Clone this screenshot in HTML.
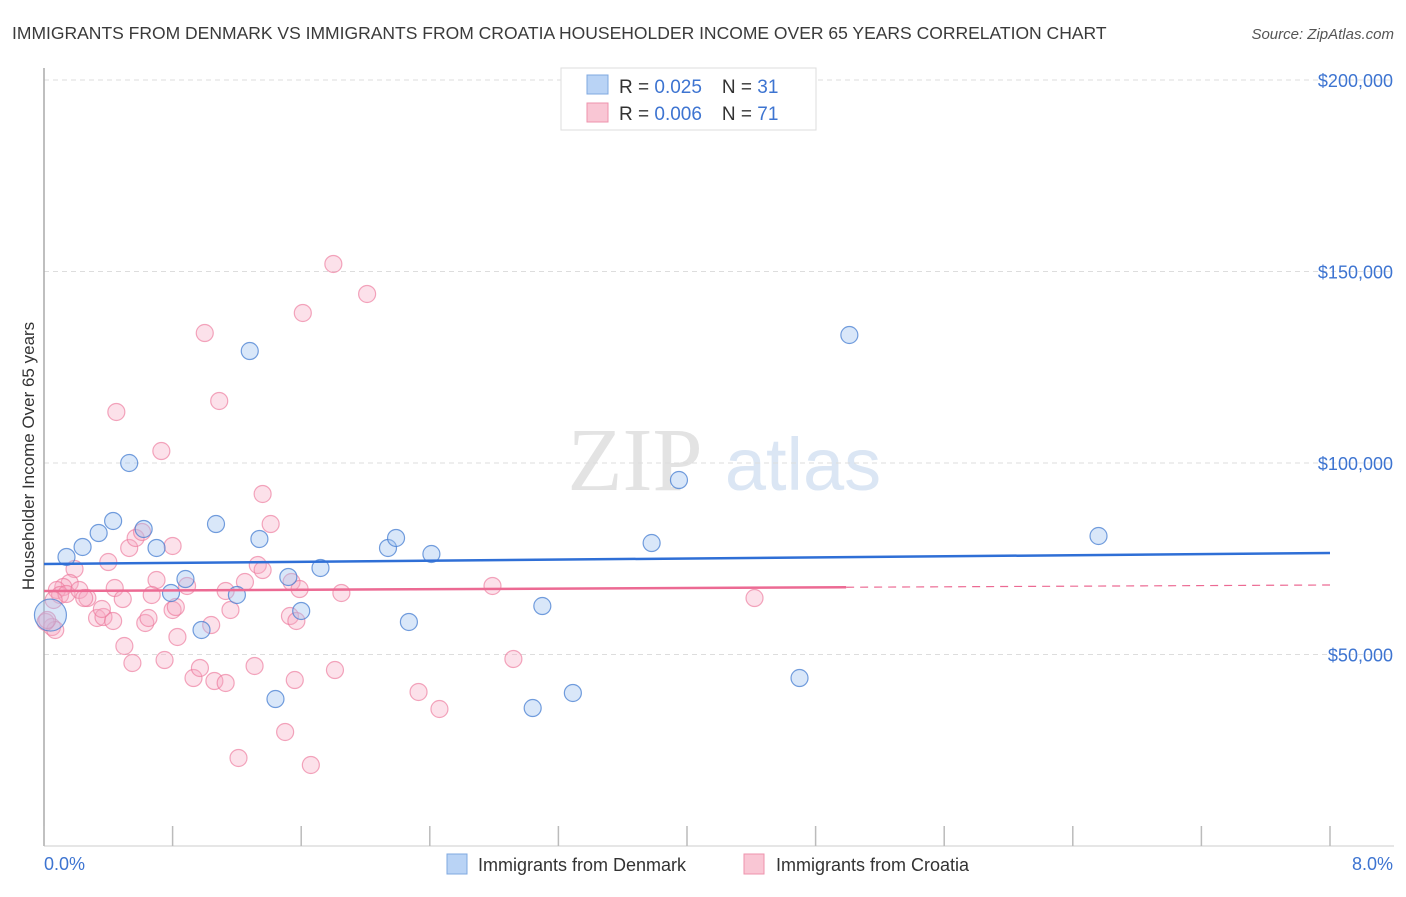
<!DOCTYPE html>
<html><head><meta charset="utf-8"><style>
body{margin:0;background:#fff;font-family:"Liberation Sans",sans-serif}
</style></head><body>
<svg id="chart" width="1406" height="892" xmlns="http://www.w3.org/2000/svg" font-family="Liberation Sans, sans-serif">
<text x="12" y="39" font-size="17.5" fill="#3a3a3a">IMMIGRANTS FROM DENMARK VS IMMIGRANTS FROM CROATIA HOUSEHOLDER INCOME OVER 65 YEARS CORRELATION CHART</text>
<text x="1394" y="39" font-size="15" fill="#555" font-style="italic" text-anchor="end">Source: ZipAtlas.com</text>
<g>
<text x="635" y="490" font-size="90" fill="#e3e3e3" font-family="Liberation Serif, serif" text-anchor="middle">ZIP</text>
<text x="803" y="490" font-size="74" fill="#dbe6f4" text-anchor="middle">atlas</text>
</g>
<g id="grid"></g>
<g id="axes"></g>
<g id="marks"></g>
<text transform="translate(34,456) rotate(-90)" font-size="17" fill="#333" text-anchor="middle">Householder Income Over 65 years</text>
<g>
<rect x="561" y="68" width="255" height="62" fill="#fff" stroke="#ddd"/>
<rect x="587" y="75" width="21" height="19" fill="#b9d3f5" stroke="#7fa8e0"/>
<rect x="587" y="103" width="21" height="19" fill="#f9c6d4" stroke="#ee93ad"/>
<text x="619" y="93" font-size="19" fill="#333">R = <tspan fill="#3d74d1">0.025</tspan><tspan dx="20">N = </tspan><tspan fill="#3d74d1">31</tspan></text>
<text x="619" y="120" font-size="19" fill="#333">R = <tspan fill="#3d74d1">0.006</tspan><tspan dx="20">N = </tspan><tspan fill="#3d74d1">71</tspan></text>
</g>
<g>
<rect x="447" y="854" width="20" height="20" fill="#b9d3f5" stroke="#7fa8e0"/>
<text x="478" y="871" font-size="18" fill="#333">Immigrants from Denmark</text>
<rect x="744" y="854" width="20" height="20" fill="#f9c6d4" stroke="#ee93ad"/>
<text x="776" y="871" font-size="18" fill="#333">Immigrants from Croatia</text>
</g>
</svg>
<script>
const xTicks=[0,0.8,1.6,2.4,3.2,4,4.8,5.6,6.4,7.2,8];
const yTicks=[50000,100000,150000,200000];
const yTickLabels=["$50,000","$100,000","$150,000","$200,000"];
const xEndLabels=["0.0%","8.0%"];
const denX=[0.14,0.24,0.34,0.43,0.62,0.53,0.70,0.79,0.88,0.98,1.07,1.20,1.28,1.34,1.44,1.52,1.60,1.72,2.14,2.19,2.27,2.41,3.04,3.10,3.29,3.78,3.95,4.70,5.01,6.56,0.04];
const denY=[75460,78070,81720,84860,82770,100000,77810,66060,69710,56400,84070,65540,129240,80160,38380,70240,61360,72590,77810,80420,58490,76240,36030,62660,39950,79110,95560,43860,133420,80940,60300];
const croX=[0.45,0.73,1.09,1.00,1.61,1.80,2.01,1.36,1.41,0.53,0.57,0.61,0.80,0.40,0.19,0.16,0.12,0.08,0.10,0.14,0.22,0.27,0.25,0.44,0.49,0.70,0.67,0.89,1.13,1.25,1.33,1.36,1.54,1.59,1.85,2.79,4.42,0.33,0.37,0.43,0.36,0.63,0.65,0.80,0.82,1.04,1.16,1.53,1.57,0.50,0.55,0.75,0.83,0.93,0.97,1.06,1.13,1.31,1.56,1.81,2.33,2.46,2.92,1.50,1.21,1.66,0.05,0.07,0.01,0.02,0.06];
const croY=[113320,103130,116190,133940,139170,151960,144130,91910,84070,77810,80420,81990,78330,74150,72320,68670,67620,66840,65540,65800,66840,64750,64750,67360,64490,69450,65540,67890,66580,68930,73370,72060,68930,67100,66060,67890,64750,59530,59790,58750,61880,58230,59530,61620,62400,57700,61620,60050,58750,52220,47780,48560,54570,43860,46480,43080,42560,47000,43340,45950,40210,35770,48830,29770,22980,21150,57180,56400,58490,59010,64230];
const denTrend=[73630,76500];
const croTrend=[66580,68150];
const croSolidEnd=4.99;

const NS="http://www.w3.org/2000/svg";
const X0=44,X1=1330,Y0=846,PPY=766/200000;
const sx=v=>X0+(v/8)*(X1-X0);
const sy=v=>Y0-v*PPY;
function mk(tag,attrs,parent){const e=document.createElementNS(NS,tag);for(const k in attrs)e.setAttribute(k,attrs[k]);document.getElementById(parent).appendChild(e);return e;}
yTicks.forEach((t,i)=>{
  const g=mk('line',{x1:X0,x2:1394,y1:sy(t),y2:sy(t),stroke:'#ddd','stroke-dasharray':'5,4'},'grid');
  
  
  const l=mk('text',{x:1393,y:sy(t)+7,'font-size':18,fill:'#3d74d1','text-anchor':'end'},'axes');
  l.textContent=yTickLabels[i];
  
  
});
const ax=mk('line',{x1:X0,x2:X0,y1:68,y2:Y0,stroke:'#aaa','stroke-width':1.5},'axes');


const bx=mk('line',{x1:X0,x2:1394,y1:Y0,y2:Y0,stroke:'#ccc'},'axes');


xTicks.forEach(t=>{
  const k=mk('line',{x1:sx(t),x2:sx(t),y1:826,y2:Y0,stroke:'#bbb','stroke-width':1.5},'axes');
  
  
});
const xl0=mk('text',{x:44,y:870,'font-size':18,fill:'#3d74d1'},'axes');xl0.textContent=xEndLabels[0];


const xl1=mk('text',{x:1393,y:870,'font-size':18,fill:'#3d74d1','text-anchor':'end'},'axes');xl1.textContent=xEndLabels[1];


croX.forEach((v,i)=>{
  const c=mk('circle',{cx:sx(v),cy:sy(croY[i]),r:8.5,fill:'rgba(246,170,195,0.35)',stroke:'rgba(236,120,155,0.65)','stroke-width':1.2},'marks');
  
  
});
denX.forEach((v,i)=>{
  const c=mk('circle',{cx:sx(v),cy:sy(denY[i]),r:i===denX.length-1?16:8.5,fill:'rgba(160,195,240,0.4)',stroke:'rgba(70,125,210,0.75)','stroke-width':1.2},'marks');
  
  
});
const t1=mk('line',{x1:sx(0),x2:sx(8),y1:sy(denTrend[0]),y2:sy(denTrend[1]),stroke:'#2f6fd6','stroke-width':2.5},'marks');


const cy=x=>croTrend[0]+(croTrend[1]-croTrend[0])*x/8;
const t2=mk('line',{x1:sx(0),x2:sx(croSolidEnd),y1:sy(croTrend[0]),y2:sy(cy(croSolidEnd)),stroke:'#ec6a93','stroke-width':2.5},'marks');


const t3=mk('line',{x1:sx(croSolidEnd),x2:sx(8),y1:sy(cy(croSolidEnd)),y2:sy(croTrend[1]),stroke:'#ec6a93','stroke-width':1.2,'stroke-dasharray':'8,6'},'marks');


</script>
</body></html>
